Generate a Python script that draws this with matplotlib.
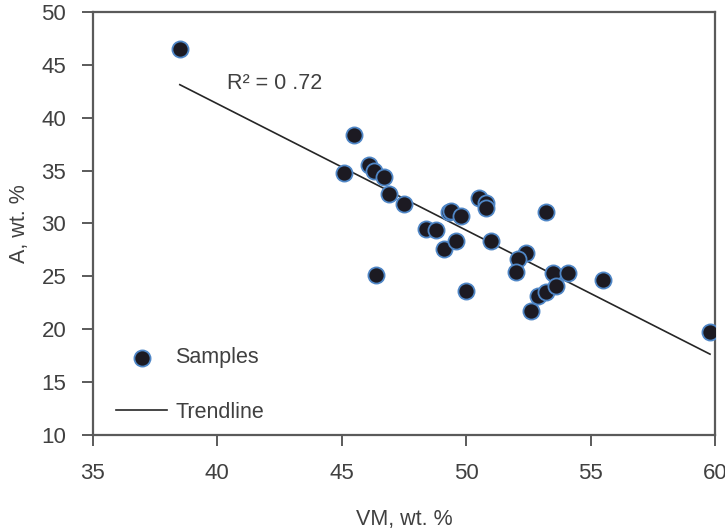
import numpy as np
import matplotlib
matplotlib.use("Agg")
from matplotlib import pyplot as plt

# VM (x) and A (y), wt. %
vm = [38.5, 45.5, 45.1, 46.1, 46.3, 46.7, 46.9, 47.5, 46.4, 48.4, 48.8,
      49.1, 49.6, 49.3, 49.4, 49.8, 50.0, 50.5, 50.8, 50.8, 51.0, 52.4,
      52.1, 52.0, 53.2, 52.6, 52.9, 53.2, 53.5, 53.6, 54.1, 55.5, 59.8]
ash = [46.5, 38.4, 34.8, 35.5, 35.0, 34.4, 32.8, 31.8, 25.1, 29.5, 29.4,
       27.6, 28.3, 31.1, 31.2, 30.7, 23.6, 32.4, 31.9, 31.5, 28.3, 27.2,
       26.6, 25.4, 31.1, 21.7, 23.1, 23.5, 25.3, 24.1, 25.3, 24.7, 19.7]
r2_text = 'R² = 0 .72'

plt.rcParams['font.family'] = ['Liberation Sans', 'DejaVu Sans']
txt = '#404040'
spine = '#5a5a5a'

fig = plt.figure(figsize=(7.25, 5.3), dpi=100)
ax = fig.add_axes([92.7 / 725, 1 - 435 / 530, (715 - 92.7) / 725, (435 - 12) / 530])

coef = np.polyfit(vm, ash, 1)
xs = np.array([min(vm), max(vm)])
ax.plot(xs, np.polyval(coef, xs), color='#262626', lw=1.2, label='Trendline', zorder=2)
ax.scatter(vm, ash, s=135, c='#1c1a22', edgecolors='#4f86c6', linewidths=1.3,
           label='Samples', zorder=3)

ax.text(40.4, 43.2, r2_text, fontsize=15.5, color=txt, va='center')

ax.set_xlim(35, 60)
ax.set_ylim(10, 50)
ax.set_xticks(range(35, 61, 5))
ax.set_yticks(range(10, 51, 5))
for s in ax.spines.values():
    s.set_color(spine)
    s.set_linewidth(1.6)
ax.tick_params(direction='out', length=8, width=1.4, color=spine,
               labelsize=16, labelcolor=txt)
ax.tick_params(axis='x', pad=12)
ax.tick_params(axis='y', pad=11)
ax.set_xlabel('VM, wt. %', fontsize=15.5, color=txt, labelpad=18)
ax.set_ylabel('A, wt. %', fontsize=15.5, color=txt, labelpad=8)

h, l = ax.get_legend_handles_labels()
ax.legend(h[::-1], l[::-1], loc='lower left', bbox_to_anchor=(0.006, -0.017),
          frameon=False, fontsize=15.5, handlelength=2.4, handletextpad=0.37,
          labelspacing=1.55, labelcolor=txt)

fig.savefig('out.png', dpi=100)
